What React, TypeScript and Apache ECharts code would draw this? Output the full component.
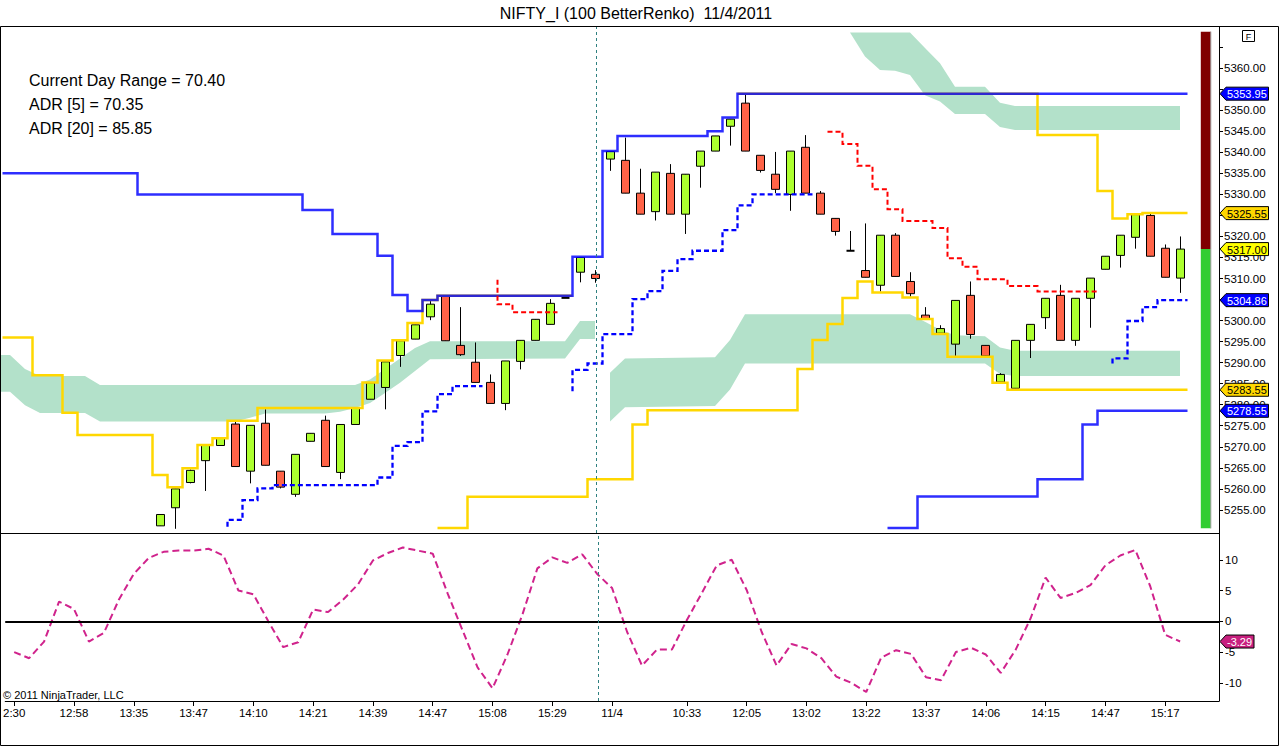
import React, { useEffect, useRef } from 'react';
import * as echarts from 'echarts';

const FONT = '"Liberation Sans", Arial, Helvetica, sans-serif';

// ---------- candles (Renko bars), first visible candle at bar 10 ----------
const firstCandleBar = 10;
const candleOpen = [
  5251.2, 5255.5, 5261.5, 5266.7, 5270.3, 5275.4, 5264.2, 5275.6, 5264.2, 5258.7,
  5271.3, 5276.3, 5263.9, 5275.3, 5281.3, 5284.1, 5291.7, 5295.6, 5300.9, 5305.8,
  5294.1, 5290.1, 5285.3, 5280.3, 5290.3, 5295.3, 5299.1, 5305.4, 5311.5, 5311.0,
  5338.4, 5338.1, 5330.3, 5325.9, 5335.0, 5325.3, 5336.7, 5340.3, 5346.2, 5351.7,
  5339.3, 5334.8, 5330.0, 5341.2, 5330.3, 5324.3, 5316.6, 5311.9, 5308.4, 5320.3,
  5309.3, 5301.3, 5297.0, 5294.4, 5306.0, 5294.1, 5285.4, 5283.9, 5295.3, 5300.7,
  5306.0, 5295.3, 5305.3, 5312.2, 5315.5, 5319.8, 5325.0, 5317.2, 5310.1,
];
const candleClose = [
  5253.9, 5260.0, 5264.4, 5270.3, 5272.0, 5265.3, 5275.1, 5265.6, 5260.4, 5268.2,
  5273.2, 5265.3, 5275.3, 5279.1, 5285.2, 5290.2, 5295.2, 5299.0, 5303.9, 5295.2,
  5291.9, 5285.3, 5280.3, 5290.4, 5295.3, 5300.3, 5304.1, 5305.4, 5315.0, 5310.0,
  5340.2, 5330.3, 5325.3, 5335.3, 5325.3, 5334.8, 5340.3, 5343.9, 5347.9, 5340.3,
  5335.7, 5331.2, 5340.3, 5330.3, 5325.3, 5321.2, 5316.6, 5310.3, 5320.3, 5310.5,
  5306.4, 5300.3, 5298.1, 5304.8, 5296.7, 5291.6, 5287.2, 5295.3, 5299.1, 5305.3,
  5295.3, 5305.3, 5310.1, 5315.3, 5320.3, 5325.2, 5315.3, 5310.3, 5317.0,
];
const candleLow = [
  5251.2, 5250.5, 5261.3, 5259.5, 5270.3, 5265.3, 5261.3, 5265.6, 5260.1, 5258.1,
  5271.3, 5265.3, 5262.3, 5275.3, 5281.3, 5278.9, 5289.0, 5295.6, 5300.1, 5295.2,
  5291.6, 5285.3, 5280.3, 5278.7, 5288.4, 5295.3, 5299.1, 5305.4, 5309.1, 5309.0,
  5335.6, 5330.3, 5325.3, 5323.8, 5325.3, 5320.6, 5331.6, 5340.3, 5341.6, 5340.3,
  5335.2, 5330.3, 5326.1, 5330.3, 5325.3, 5320.2, 5316.6, 5310.3, 5306.9, 5310.5,
  5305.7, 5300.3, 5297.0, 5291.6, 5295.7, 5291.6, 5285.4, 5283.9, 5291.1, 5298.0,
  5295.3, 5294.0, 5298.3, 5312.2, 5312.6, 5317.1, 5315.3, 5310.3, 5306.6,
];
const candleHigh = [
  5253.9, 5260.0, 5264.6, 5270.3, 5272.0, 5276.0, 5275.1, 5278.9, 5264.2, 5268.2,
  5273.2, 5277.4, 5275.3, 5279.1, 5285.2, 5290.2, 5295.2, 5299.0, 5304.9, 5305.8,
  5303.2, 5294.8, 5287.2, 5290.4, 5295.3, 5300.3, 5305.1, 5305.4, 5315.0, 5312.0,
  5340.2, 5343.5, 5336.1, 5335.3, 5337.2, 5334.8, 5340.3, 5343.9, 5347.9, 5353.8,
  5339.3, 5340.1, 5340.3, 5344.1, 5330.8, 5324.3, 5321.3, 5323.1, 5320.3, 5320.8,
  5311.5, 5303.2, 5298.9, 5304.8, 5309.3, 5294.1, 5287.5, 5295.3, 5299.1, 5305.3,
  5308.5, 5305.3, 5310.1, 5315.3, 5320.3, 5325.2, 5325.5, 5318.1, 5320.0,
];

// ---------- step lines: [fromBar, toBar, value] ----------
const yellowA = [
  [0, 1, 5296.0], [2, 3, 5287.0], [4, 4, 5278.1], [5, 9, 5272.8], [10, 10, 5263.3],
  [11, 11, 5260.4], [12, 12, 5264.9], [13, 13, 5270.4], [14, 14, 5272.0], [15, 16, 5276.2],
  [17, 23, 5279.2], [24, 24, 5285.3], [25, 25, 5290.5], [26, 26, 5295.3], [27, 27, 5299.4],
  [28, 28, 5304.9], [29, 37, 5305.9],
];
const yellowB = [
  [29, 30, 5250.7], [31, 38, 5258.1], [39, 41, 5262.3], [42, 42, 5275.3], [43, 52, 5278.7],
  [53, 53, 5288.5], [54, 54, 5295.4], [55, 55, 5299.2], [56, 56, 5305.4], [57, 57, 5309.3],
  [58, 59, 5306.7], [60, 60, 5305.5], [61, 61, 5300.4], [62, 62, 5296.8], [63, 65, 5291.4],
  [66, 66, 5285.2], [67, 78, 5283.55],
];
const yellowC = [
  [49, 68, 5353.95], [69, 72, 5344.1], [73, 73, 5330.8], [74, 74, 5324.3], [75, 75, 5325.3],
  [76, 78, 5325.55],
];
const blueTop = [
  [0, 8, 5335.0], [9, 19, 5330.0], [20, 21, 5326.3], [22, 24, 5320.6], [25, 25, 5315.4],
  [26, 26, 5306.1], [27, 27, 5302.3], [28, 28, 5304.9], [29, 37, 5305.9], [38, 39, 5315.2],
  [40, 40, 5340.3], [41, 46, 5343.9], [47, 47, 5345.0], [48, 48, 5348.3], [49, 78, 5353.95],
];
const blueBottom = [
  [59, 60, 5250.7], [61, 68, 5258.2], [69, 71, 5262.3], [72, 72, 5275.3], [73, 78, 5278.55],
];
const redDashALead = [33, 5309.7];
const redDashA = [[33, 33, 5303.9], [34, 36, 5302.0]];
const redDashB = [
  [55, 55, 5344.9], [56, 56, 5342.0], [57, 57, 5336.8], [58, 58, 5331.2], [59, 59, 5326.5],
  [60, 61, 5323.7], [62, 62, 5322.0], [63, 63, 5314.8], [64, 64, 5312.8], [65, 66, 5309.8],
  [67, 68, 5308.2], [69, 72, 5306.9],
];
const blueDashALead = [15, 5251.0];
const blueDashA = [
  [15, 15, 5252.6], [16, 16, 5257.3], [17, 17, 5260.1], [18, 24, 5260.9], [25, 25, 5262.7],
  [26, 26, 5270.2], [27, 27, 5271.1], [28, 28, 5278.4], [29, 29, 5282.5], [30, 31, 5284.4],
];
const blueDashBLead = [38, 5283.2];
const blueDashB = [
  [38, 38, 5288.3], [39, 39, 5289.8], [40, 41, 5296.8], [42, 42, 5305.1], [43, 43, 5307.0],
  [44, 44, 5311.8], [45, 45, 5314.6], [46, 47, 5316.6], [48, 48, 5321.5], [49, 49, 5327.4],
  [50, 53, 5330.0],
];
const blueDashCLead = [74, 5289.8];
const blueDashC = [[74, 74, 5291.0], [75, 75, 5299.9], [76, 76, 5303.2], [77, 78, 5304.86]];

// ---------- cloud vertices: [bar, upper span, lower span] ----------
const cloudA = [
  [-1, 5291.8, 5283.1], [0, 5291.8, 5283.1], [1, 5288.5, 5279.9], [2, 5286.8, 5278.0],
  [5, 5286.8, 5278.0], [6, 5284.7, 5276.0], [15, 5284.7, 5276.0], [16, 5284.7, 5276.9],
  [17, 5284.7, 5277.9], [21, 5284.7, 5277.9], [22, 5284.7, 5278.3], [23, 5284.7, 5279.2],
  [24, 5286.0, 5280.4], [25, 5288.5, 5282.8], [26, 5291.0, 5285.2], [27, 5293.5, 5288.0],
  [28, 5295.1, 5290.8], [37, 5295.1, 5291.0], [38, 5299.9, 5295.6], [39, 5299.9, 5295.6],
];
const cloudB = [
  [40, 5287.6, 5276.0], [41, 5291.0, 5279.4], [47, 5291.3, 5279.7], [48, 5295.4, 5283.6],
  [49, 5301.5, 5289.8], [60, 5301.5, 5289.8], [61, 5299.7, 5289.8], [62, 5297.8, 5289.8],
  [63, 5296.5, 5289.8], [65, 5296.3, 5289.8], [66, 5293.6, 5287.3], [67, 5292.8, 5286.8],
  [78, 5292.8, 5286.8],
];
const cloudC = [
  [56, 5368.5, 5368.5], [57, 5368.5, 5362.8], [58, 5368.5, 5359.6], [59, 5368.5, 5359.4],
  [60, 5368.5, 5358.4], [61, 5364.8, 5353.6], [62, 5361.2, 5352.1], [63, 5355.6, 5349.1],
  [65, 5355.6, 5349.1], [66, 5351.8, 5346.0], [67, 5351.0, 5345.3], [78, 5351.0, 5345.3],
];

// ---------- oscillator (lower panel), one value per bar 0..78 ----------
const oscillator = [
  -5.0, -6.0, -3.3, 3.2, 2.0, -3.3, -1.9, 3.5, 7.7, 10.3,
  11.3, 11.5, 11.5, 11.8, 10.7, 5.0, 4.4, 0.0, -4.2, -3.4,
  1.9, 1.5, 3.5, 6.0, 9.9, 11.1, 12.0, 11.5, 11.0, 4.5,
  -1.5, -7.5, -10.9, -5.4, 1.1, 8.6, 10.4, 9.5, 10.9, 7.7,
  5.4, -1.7, -7.2, -4.6, -4.6, 0.2, 4.6, 9.1, 10.0, 5.1,
  -1.7, -7.2, -3.7, -4.4, -6.0, -9.0, -10.0, -11.5, -5.9, -4.7,
  -5.3, -9.1, -9.6, -5.0, -4.3, -5.4, -8.4, -4.6, 0.5, 7.1,
  3.8, 4.6, 5.9, 9.1, 10.7, 11.6, 5.7, -2.2, -3.29,
];

// ---------- axes ----------
const xTickBars = [0, 4, 8, 12, 16, 20, 24, 28, 32, 36, 40, 45, 49, 53, 57, 61, 65, 69, 73, 77];
const xTickLabels = [
  '2:30', '12:58', '13:35', '13:47', '14:10', '14:21', '14:39', '14:47', '15:08', '15:29',
  '11/4', '10:33', '12:05', '13:02', '13:22', '13:37', '14:06', '14:15', '14:47', '15:17',
];
const priceTicks = [
  5255, 5260, 5265, 5270, 5275, 5280, 5285, 5290, 5295, 5300, 5305, 5310,
  5315, 5320, 5325, 5330, 5335, 5340, 5345, 5350, 5355, 5360, 5365,
];
// labels that stay visible (the others sit fully under the price tags)
const priceLabels = [
  5255, 5260, 5265, 5270, 5275, 5280, 5285, 5290, 5295, 5300, 5310,
  5315, 5320, 5330, 5335, 5340, 5345, 5350, 5360,
];
const oscTicks = [-10, -5, 0, 5, 10];

const X_MIN = -0.6;
const X_MAX = 80.6;
const PRICE_MIN = 5249.5;
const PRICE_MAX = 5369.8;
const OSC_MIN = -12.96;
const OSC_MAX = 14.36;

const sessionBreakBar = 39.07;
const rangeBarBar = 79.72;
const dayRangeHigh = 5368.7;
const lastPrice = 5317.0;
const dayRangeLow = 5250.6;

const priceTagValues = [5353.95, 5325.55, 5304.86, 5283.55, 5278.55, 5317.0];
const priceTagFills = ['#0000FF', '#FFD700', '#0000FF', '#FFD700', '#0000FF', '#FFFF00'];
const priceTagInk = ['#FFFFFF', '#000000', '#FFFFFF', '#000000', '#FFFFFF', '#000000'];
const oscTagValue = -3.29;

const infoLines = ['Current Day Range = 70.40', 'ADR [5] = 70.35', 'ADR [20] = 85.85'];
const titleText = 'NIFTY_I (100 BetterRenko)  11/4/2011';
const copyrightText = '\u00A9 2011 NinjaTrader, LLC';

function stepPoints(steps: number[][], lead?: number[]) {
  const pts: number[][] = [];
  if (lead) pts.push([lead[0] - 0.5, lead[1]]);
  steps.forEach(([a, b, v]) => {
    pts.push([a - 0.5, v]);
    pts.push([b + 0.5, v]);
  });
  return pts;
}

function stepSeries(steps: number[][], color: string, width: number, dashed: boolean, lead?: number[], opacity = 1) {
  return {
    type: 'line',
    xAxisIndex: 0,
    yAxisIndex: 0,
    data: stepPoints(steps, lead),
    symbol: 'none',
    showSymbol: false,
    silent: true,
    clip: true,
    z: 4,
    lineStyle: { color, width, opacity, type: dashed ? [5, 3] : 'solid', cap: 'butt', join: 'miter' },
    emphasis: { disabled: true },
  };
}

function buildOption(): any {
  const candleData = candleOpen.map((o, i) => [
    firstCandleBar + i, o, candleClose[i], candleLow[i], candleHigh[i],
  ]);
  const clouds = [cloudA, cloudB, cloudC];
  const labelStyle = { color: '#000', fontSize: 11.5, fontFamily: FONT };

  return {
    animation: false,
    backgroundColor: '#ffffff',
    textStyle: { fontFamily: FONT },
    grid: [
      { left: 1, top: 27, width: 1218, height: 506, show: false },
      { left: 1, top: 533, width: 1218, height: 168, show: false },
    ],
    xAxis: [
      {
        type: 'value', gridIndex: 0, min: X_MIN, max: X_MAX,
        axisLine: { show: true, onZero: false, lineStyle: { color: '#000', width: 1 } },
        axisTick: { show: false }, axisLabel: { show: false }, splitLine: { show: false },
      },
      {
        type: 'value', gridIndex: 1, min: X_MIN, max: X_MAX,
        axisLine: { show: true, onZero: false, lineStyle: { color: '#000', width: 1 } },
        axisTick: { show: true, length: 5, customValues: xTickBars, lineStyle: { color: '#000' } },
        axisLabel: {
          show: true, customValues: xTickBars, margin: 6, ...labelStyle,
          formatter: (v: number) => {
            const i = xTickBars.indexOf(Math.round(v));
            return i >= 0 ? xTickLabels[i] : '';
          },
        },
        splitLine: { show: false },
      },
    ],
    yAxis: [
      {
        type: 'value', gridIndex: 0, position: 'right', min: PRICE_MIN, max: PRICE_MAX,
        axisLine: { show: true, onZero: false, lineStyle: { color: '#000', width: 1 } },
        axisTick: { show: true, length: 4, customValues: priceTicks, lineStyle: { color: '#000' } },
        axisLabel: {
          show: true, customValues: priceLabels, margin: 5, ...labelStyle,
          formatter: (v: number) => v.toFixed(2),
        },
        splitLine: { show: false },
      },
      {
        type: 'value', gridIndex: 1, position: 'right', min: OSC_MIN, max: OSC_MAX,
        axisLine: { show: true, onZero: false, lineStyle: { color: '#000', width: 1 } },
        axisTick: { show: true, length: 4, customValues: oscTicks, lineStyle: { color: '#000' } },
        axisLabel: {
          show: true, customValues: oscTicks, margin: 6, ...labelStyle,
          formatter: (v: number) => String(v),
        },
        splitLine: { show: false },
      },
    ],
    series: [
      // cloud
      {
        type: 'custom', xAxisIndex: 0, yAxisIndex: 0, z: 1, silent: true, clip: true,
        data: clouds.map((c) => [c[0][0], c[0][1]]),
        encode: { x: 0, y: 1 },
        renderItem: (params: any, api: any) => {
          const c = clouds[params.dataIndex];
          const upper = c.map((p) => api.coord([p[0], p[1]]));
          const lower = c.slice().reverse().map((p) => api.coord([p[0], p[2]]));
          return {
            type: 'polygon',
            shape: { points: upper.concat(lower) },
            style: { fill: '#B3E1CA', stroke: 'none' },
          };
        },
      },
      // day range bar
      {
        type: 'custom', xAxisIndex: 0, yAxisIndex: 0, z: 2, silent: true, clip: false,
        data: [[rangeBarBar, dayRangeHigh, lastPrice, dayRangeLow]],
        encode: { x: 0, y: [1, 2, 3] },
        renderItem: (params: any, api: any) => {
          const t = api.coord([api.value(0), api.value(1)]);
          const m = api.coord([api.value(0), api.value(2)]);
          const b = api.coord([api.value(0), api.value(3)]);
          const w = 10;
          return {
            type: 'group',
            children: [
              { type: 'rect', shape: { x: t[0] - w / 2, y: t[1], width: w, height: m[1] - t[1] }, style: { fill: '#800000' } },
              { type: 'rect', shape: { x: t[0] - w / 2, y: m[1], width: w, height: b[1] - m[1] }, style: { fill: '#32CD32' } },
              { type: 'line', shape: { x1: t[0] + w / 2, y1: t[1], x2: t[0] + w / 2, y2: b[1] }, style: { stroke: '#9a9a9a', lineWidth: 1 } },
            ],
          };
        },
      },
      // candles
      {
        type: 'custom', xAxisIndex: 0, yAxisIndex: 0, z: 3, silent: true, clip: true,
        data: candleData,
        encode: { x: 0, y: [1, 2, 3, 4] },
        renderItem: (params: any, api: any) => {
          const k = api.value(0);
          const o = api.value(1);
          const c = api.value(2);
          const pO = api.coord([k, o]);
          const pC = api.coord([k, c]);
          const pL = api.coord([k, api.value(3)]);
          const pH = api.coord([k, api.value(4)]);
          const cx = Math.round(pO[0]) + 0.5;
          const w = 8;
          const top = Math.min(pO[1], pC[1]);
          const bot = Math.max(pO[1], pC[1]);
          const doji = Math.abs(bot - top) < 0.5;
          return {
            type: 'group',
            children: [
              { type: 'line', shape: { x1: cx, y1: pH[1], x2: cx, y2: pL[1] }, style: { stroke: '#000', lineWidth: 1 } },
              doji
                ? { type: 'line', shape: { x1: cx - w / 2, y1: top, x2: cx + w / 2, y2: top }, style: { stroke: '#000', lineWidth: 2 } }
                : {
                    type: 'rect',
                    shape: { x: cx - w / 2, y: top, width: w, height: bot - top },
                    style: { fill: c >= o ? '#ADFF2F' : '#FF6347', stroke: '#000', lineWidth: 1 },
                  },
            ],
          };
        },
      },
      // yellow lines (under the blue ones)
      stepSeries(yellowA, '#FFD700', 2.5, false),
      stepSeries(yellowB, '#FFD700', 2.5, false),
      stepSeries(yellowC, '#FFD700', 2.5, false),
      // blue solid lines
      {
        ...stepSeries(blueTop, '#0000FF', 2.5, false, undefined, 0.82),
        markLine: {
          silent: true, symbol: ['none', 'none'], label: { show: false },
          lineStyle: { color: '#2F8080', width: 1, type: [3, 3] },
          data: [{ xAxis: sessionBreakBar }],
        },
      },
      stepSeries(blueBottom, '#0000FF', 2.5, false, undefined, 0.82),
      // red dashed
      stepSeries(redDashA, '#FF0000', 2, true, redDashALead),
      stepSeries(redDashB, '#FF0000', 2, true),
      // blue dashed
      stepSeries(blueDashA, '#0000FF', 2.3, true, blueDashALead),
      stepSeries(blueDashB, '#0000FF', 2.3, true, blueDashBLead),
      stepSeries(blueDashC, '#0000FF', 2.3, true, blueDashCLead),
      // oscillator
      {
        type: 'line', xAxisIndex: 1, yAxisIndex: 1, z: 4, silent: true,
        data: oscillator.map((v, k) => [k, v]),
        symbol: 'none', showSymbol: false,
        lineStyle: { color: '#D0238C', width: 2, type: [7, 4] },
        emphasis: { disabled: true },
        markLine: {
          silent: true, symbol: ['none', 'none'], label: { show: false },
          data: [
            { yAxis: 0, lineStyle: { color: '#000', width: 2, type: 'solid' } },
            { xAxis: sessionBreakBar, lineStyle: { color: '#2F8080', width: 1, type: [3, 3] } },
          ],
        },
      },
    ],
  };
}

function tagGraphic(x0: number, y: number, w: number, fill: string, ink: string, text: string, z: number) {
  return {
    type: 'group',
    z,
    children: [
      {
        type: 'polygon',
        z,
        shape: { points: [[x0, y], [x0 + 6, y - 6.5], [x0 + w, y - 6.5], [x0 + w, y + 6.5], [x0 + 6, y + 6.5]] },
        style: { fill, stroke: '#000', lineWidth: 1 },
      },
      {
        type: 'text',
        z: z + 1,
        x: x0 + 7,
        y: y + 0.5,
        style: {
          text, fill: ink, font: `11px ${FONT}`,
          textAlign: 'left', textVerticalAlign: 'middle', align: 'left', verticalAlign: 'middle',
        },
      },
    ],
  };
}

export default function App() {
  const ref = useRef<HTMLDivElement>(null);
  useEffect(() => {
    const el = ref.current;
    if (!el) return;
    const chart = echarts.init(el, null, { renderer: 'svg' });
    chart.setOption(buildOption());

    const axisX = (chart.convertToPixel({ xAxisIndex: 0 }, X_MAX) as number) + 1;
    const graphics: any[] = [];

    // outer frame
    graphics.push({
      type: 'rect', z: 90, silent: true,
      shape: { x: 0.5, y: 26.5, width: 1278, height: 719 },
      style: { fill: 'none', stroke: '#000', lineWidth: 1 },
    });
    // title
    graphics.push({
      type: 'text', z: 90, x: 636, y: 13,
      style: { text: titleText, fill: '#000', font: `16px ${FONT}`, textAlign: 'center', textVerticalAlign: 'middle', align: 'center', verticalAlign: 'middle' },
    });
    // info lines
    infoLines.forEach((t, i) => {
      graphics.push({
        type: 'text', z: 90, x: 29, y: 80 + i * 24,
        style: { text: t, fill: '#000', font: `16px ${FONT}`, textAlign: 'left', textVerticalAlign: 'middle', align: 'left', verticalAlign: 'middle' },
      });
    });
    // copyright
    graphics.push({
      type: 'text', z: 90, x: 3, y: 695,
      style: { text: copyrightText, fill: '#000', font: `11px ${FONT}`, textAlign: 'left', textVerticalAlign: 'middle', align: 'left', verticalAlign: 'middle' },
    });
    // "F" button
    graphics.push({
      type: 'group', z: 95,
      children: [
        { type: 'rect', z: 95, shape: { x: 1242.5, y: 30.5, width: 12, height: 11 }, style: { fill: '#fff', stroke: '#000', lineWidth: 1 } },
        { type: 'text', z: 96, x: 1248.5, y: 36.5, style: { text: 'F', fill: '#000', font: `9px ${FONT}`, textAlign: 'center', textVerticalAlign: 'middle', align: 'center', verticalAlign: 'middle' } },
      ],
    });
    // price tags
    priceTagValues.forEach((v, i) => {
      const y = chart.convertToPixel({ yAxisIndex: 0 }, v) as number;
      graphics.push(tagGraphic(axisX, y, 48.5, priceTagFills[i], priceTagInk[i], v.toFixed(2), 100 + i * 2));
    });
    const oy = chart.convertToPixel({ yAxisIndex: 1 }, oscTagValue) as number;
    graphics.push(tagGraphic(axisX, oy, 34, '#C8207F', '#FFFFFF', oscTagValue.toFixed(2), 120));

    chart.setOption({ graphic: graphics });
    return () => chart.dispose();
  }, []);
  return (
    <div
      ref={ref}
      style={{ position: 'fixed', left: 0, top: 0, width: 1280, height: 747, background: '#fff' }}
    />
  );
}
